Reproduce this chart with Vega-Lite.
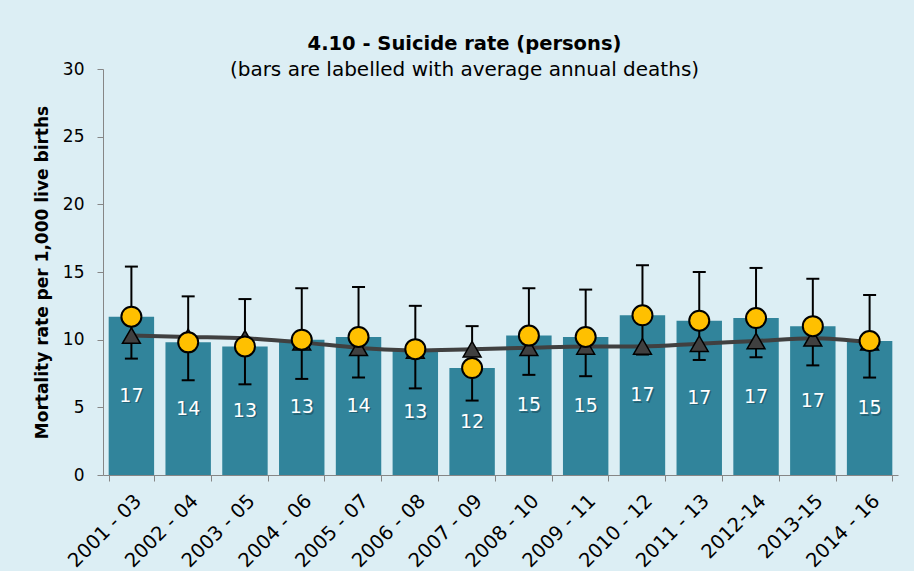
{
  "$schema": "https://vega.github.io/schema/vega-lite/v6.json",
  "autosize": {"type": "none"},
  "width": 795,
  "height": 406,
  "padding": {"left": 103, "top": 69, "right": 16, "bottom": 96},
  "background": "#DCEEF4",
  "config": {"view": {"stroke": null}, "font": "DejaVu Sans"},
  "title": {
    "text": "4.10 - Suicide rate (persons)",
    "subtitle": "(bars are labelled with average annual deaths)",
    "font": "DejaVu Sans",
    "subtitleFont": "DejaVu Sans",
    "fontSize": 19.5,
    "fontWeight": "bold",
    "subtitleFontSize": 20,
    "color": "black",
    "subtitleColor": "black",
    "anchor": "middle",
    "offset": -21,
    "dx": -36,
    "subtitlePadding": 6
  },
  "data": {
    "values": [
      {"period": "2001 - 03", "rate": 11.7, "lower": 8.6, "upper": 15.4, "comp": 10.3, "deaths": 17},
      {"period": "2002 - 04", "rate": 9.8, "lower": 7.0, "upper": 13.2, "comp": 10.2, "deaths": 14},
      {"period": "2003 - 05", "rate": 9.5, "lower": 6.7, "upper": 13.0, "comp": 10.1, "deaths": 13},
      {"period": "2004 - 06", "rate": 10.0, "lower": 7.1, "upper": 13.8, "comp": 9.8, "deaths": 13},
      {"period": "2005 - 07", "rate": 10.2, "lower": 7.2, "upper": 13.9, "comp": 9.4, "deaths": 14},
      {"period": "2006 - 08", "rate": 9.3, "lower": 6.4, "upper": 12.5, "comp": 9.2, "deaths": 13},
      {"period": "2007 - 09", "rate": 7.9, "lower": 5.5, "upper": 11.0, "comp": 9.3, "deaths": 12},
      {"period": "2008 - 10", "rate": 10.3, "lower": 7.4, "upper": 13.8, "comp": 9.4, "deaths": 15},
      {"period": "2009 - 11", "rate": 10.2, "lower": 7.3, "upper": 13.7, "comp": 9.5, "deaths": 15},
      {"period": "2010 - 12", "rate": 11.8, "lower": 8.9, "upper": 15.5, "comp": 9.5, "deaths": 17},
      {"period": "2011 - 13", "rate": 11.4, "lower": 8.5, "upper": 15.0, "comp": 9.7, "deaths": 17},
      {"period": "2012-14", "rate": 11.6, "lower": 8.7, "upper": 15.3, "comp": 9.9, "deaths": 17},
      {"period": "2013-15", "rate": 11.0, "lower": 8.1, "upper": 14.5, "comp": 10.1, "deaths": 17},
      {"period": "2014 - 16", "rate": 9.9, "lower": 7.2, "upper": 13.3, "comp": 9.8, "deaths": 15}
    ]
  },
  "encoding": {
    "x": {
      "field": "period",
      "type": "nominal",
      "sort": null,
      "scale": {"paddingInner": 0.2, "paddingOuter": 0.1},
      "axis": {
        "title": null,
        "labelAngle": -45,
        "labelFont": "DejaVu Sans",
        "labelFontSize": 19.5,
        "labelColor": "black",
        "domainColor": "#868686",
        "tickColor": "#868686",
        "tickSize": 6,
        "tickBand": "extent",
        "labelPadding": 10
      }
    }
  },
  "layer": [
    {
      "mark": {"type": "bar", "color": "#31849B"},
      "encoding": {
        "y": {
          "field": "rate",
          "type": "quantitative",
          "title": "Mortality rate per 1,000 live births",
          "scale": {"domain": [0, 30]},
          "axis": {
            "values": [0, 5, 10, 15, 20, 25, 30],
            "grid": false,
            "domainColor": "#868686",
            "tickColor": "#868686",
            "tickSize": 6,
            "labelFont": "DejaVu Sans",
            "labelFontSize": 17,
            "labelColor": "black",
            "labelPadding": 13,
            "titleFont": "DejaVu Sans",
            "titleFontSize": 17,
            "titleFontWeight": "bold",
            "titleColor": "black",
            "titlePadding": 11
          }
        }
      }
    },
    {
      "mark": {"type": "rule", "color": "black", "strokeWidth": 2},
      "encoding": {
        "y": {"field": "lower", "type": "quantitative", "title": "Mortality rate per 1,000 live births"},
        "y2": {"field": "upper"}
      }
    },
    {
      "mark": {"type": "tick", "orient": "horizontal", "color": "black", "thickness": 2, "size": 13, "opacity": 1},
      "encoding": {"y": {"field": "upper", "type": "quantitative", "title": "Mortality rate per 1,000 live births"}}
    },
    {
      "mark": {"type": "tick", "orient": "horizontal", "color": "black", "thickness": 2, "size": 13, "opacity": 1},
      "encoding": {"y": {"field": "lower", "type": "quantitative", "title": "Mortality rate per 1,000 live births"}}
    },
    {
      "mark": {"type": "line", "color": "#404040", "strokeWidth": 4, "interpolate": "monotone"},
      "encoding": {"y": {"field": "comp", "type": "quantitative", "title": "Mortality rate per 1,000 live births"}}
    },
    {
      "mark": {"type": "point", "shape": "triangle-up", "filled": true, "fill": "#404040", "stroke": "black", "strokeWidth": 1.5, "size": 320, "opacity": 1},
      "encoding": {"y": {"field": "comp", "type": "quantitative", "title": "Mortality rate per 1,000 live births"}}
    },
    {
      "mark": {"type": "point", "shape": "circle", "filled": true, "fill": "#FFC000", "stroke": "black", "strokeWidth": 2, "size": 400, "opacity": 1},
      "encoding": {"y": {"field": "rate", "type": "quantitative", "title": "Mortality rate per 1,000 live births"}}
    },
    {
      "transform": [{"calculate": "datum.rate / 2", "as": "mid"}],
      "mark": {"type": "text", "color": "#1B4D5C", "opacity": 0.6, "font": "DejaVu Sans", "fontSize": 19, "dx": 1.5, "dy": 1.5},
      "encoding": {
        "y": {"field": "mid", "type": "quantitative", "title": "Mortality rate per 1,000 live births"},
        "text": {"field": "deaths", "type": "quantitative"}
      }
    },
    {
      "transform": [{"calculate": "datum.rate / 2", "as": "mid"}],
      "mark": {"type": "text", "color": "white", "font": "DejaVu Sans", "fontSize": 19},
      "encoding": {
        "y": {"field": "mid", "type": "quantitative", "title": "Mortality rate per 1,000 live births"},
        "text": {"field": "deaths", "type": "quantitative"}
      }
    }
  ]
}
